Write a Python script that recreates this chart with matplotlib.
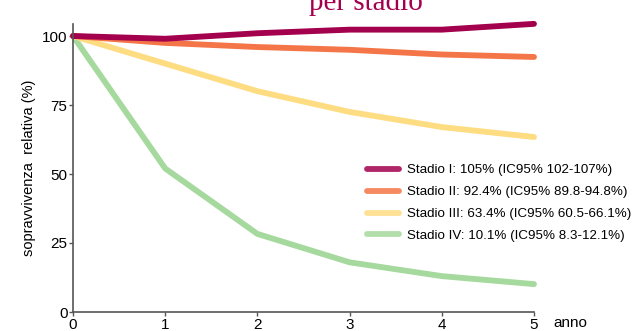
import matplotlib
matplotlib.use("Agg")
import matplotlib.pyplot as plt
from matplotlib.lines import Line2D

years = [0, 1, 2, 3, 4, 5]
stadio_I = [100, 99, 101, 102.3, 102.3, 104.4]
stadio_II = [100, 97.5, 96, 95, 93.3, 92.4]
stadio_III = [100, 90, 80, 72.5, 67, 63.4]
stadio_IV = [100, 52, 28.3, 18, 13, 10.1]
labels = ["Stadio I: 105% (IC95% 102-107%)",
          "Stadio II: 92.4% (IC95% 89.8-94.8%)",
          "Stadio III: 63.4% (IC95% 60.5-66.1%)",
          "Stadio IV: 10.1% (IC95% 8.3-12.1%)"]
colors = ["#a3004d", "#f47547", "#fedc82", "#a6d99e"]
series = [stadio_I, stadio_II, stadio_III, stadio_IV]

plt.rcParams['font.family'] = ['Liberation Sans', 'DejaVu Sans']
W, H = 643, 331
fig = plt.figure(figsize=(W/100, H/100), dpi=100)
x0, x1 = 73, 534
ytop = 312 - 104.5*2.76
ax = fig.add_axes([x0/W, (H-312)/H, (x1-x0)/W, (312-ytop)/H])

for s, c in reversed(list(zip(series, colors))):
    ax.plot(years, s, color=c, lw=4.2, solid_capstyle='round', solid_joinstyle='round', clip_on=False)

ax.set_xlim(0, 5)
ax.set_ylim(0, 104.5)
ax.set_xticks(years)
ax.set_yticks([0, 25, 50, 75, 100])
for sp in ['top', 'right']:
    ax.spines[sp].set_visible(False)
for sp in ['left', 'bottom']:
    ax.spines[sp].set_color('#555555')
    ax.spines[sp].set_linewidth(1.2)
ax.tick_params(axis='both', colors='#555555', labelcolor='black', labelsize=11, length=3, width=1, pad=1)
ax.set_ylabel("sopravvivenza  relativa (%)", fontsize=10.5, labelpad=4)
fig.text(553/W, (H-323)/H, "anno", fontsize=11, va='center', ha='left')

handles = [Line2D([0], [0], color=c, lw=4.2, alpha=0.85, solid_capstyle='round') for c in colors]
fig.legend(handles, labels, loc='upper left', bbox_to_anchor=(367/W, (H-164)/H),
           frameon=False, fontsize=9.6, handlelength=2.4, handletextpad=0.6, labelspacing=0.72,
           borderaxespad=0, borderpad=0)

fig.text(366/W, (H-10)/H, "per stadio", family=['Liberation Serif', 'DejaVu Serif'],
         fontsize=21, color='#a3004d', ha='center', va='baseline')

fig.savefig("out.png", dpi=100)
